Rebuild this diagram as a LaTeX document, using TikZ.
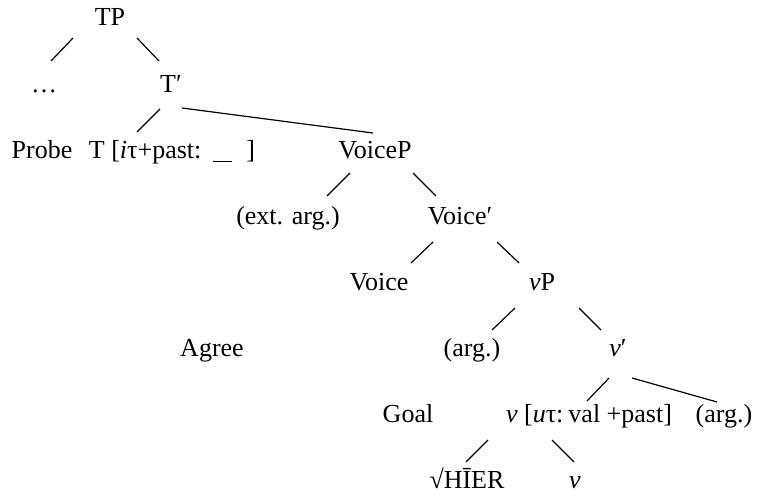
\documentclass[tikz,border=0pt]{standalone}
\usepackage{fontspec}
\setmainfont{Liberation Serif}
\begin{document}
\begin{tikzpicture}[x=1pt,y=-1pt,
  lbl/.style={anchor=base,inner sep=0pt,font=\fontsize{26}{30}\selectfont},
  br/.style={line width=1.2pt}]
\useasboundingbox (0,0) rectangle (762,495);
% row 0
\node[lbl] (TP) at (110,26) {TP};
% row 1
\node[lbl] (dots) at (44,92) {…};
\node[lbl] (Tbar) at (171,92) {T′};
% row 2
\node[lbl] (probe) at (42,158) {Probe};
\node[lbl] (T) at (172,158) {T [\textit{i}τ+past:\hspace{12pt}\rule[-4pt]{19pt}{1.2pt}\hspace{14pt}]};
\node[lbl] (VoiceP) at (375,158) {VoiceP};
% row 3
\node[lbl] (ext) at (288,224) {(ext. arg.)};
\node[lbl] (Voicebar) at (460,224) {Voice′};
% row 4
\node[lbl] (Voice) at (379,290) {Voice};
\node[lbl] (vP) at (542,290) {\textit{v}P};
% row 5
\node[lbl] (agree) at (212,356) {Agree};
\node[lbl] (arg1) at (472,356) {(arg.)};
\node[lbl] (vbar) at (618,356) {\textit{v}′};
% row 6
\node[lbl] (goal) at (408,422) {Goal};
\node[lbl] (vfeat) at (589,422) {\textit{v} [\textit{u}τ:\hspace{5pt}val +past]};
\node[lbl] (arg2) at (724,422) {(arg.)};
% row 7
\node[lbl] (root) at (467,488) {√HĪER};
\node[lbl] (vlow) at (575,488) {\textit{v}};
% branches
\draw[br] ([shift={(-37,12)}]TP.base) -- ([shift={(7,-31)}]dots.base);
\draw[br] ([shift={(27,12)}]TP.base) -- ([shift={(-12,-31)}]Tbar.base);
\draw[br] ([shift={(-11,17)}]Tbar.base) -- ([shift={(-35,-26)}]T.base);
\draw[br] ([shift={(11,16)}]Tbar.base) -- ([shift={(-2,-25)}]VoiceP.base);
\draw[br] ([shift={(-25,15)}]VoiceP.base) -- ([shift={(39,-28)}]ext.base);
\draw[br] ([shift={(38,15)}]VoiceP.base) -- ([shift={(-24,-28)}]Voicebar.base);
\draw[br] ([shift={(-27,18)}]Voicebar.base) -- ([shift={(32,-27)}]Voice.base);
\draw[br] ([shift={(37,18)}]Voicebar.base) -- ([shift={(-23,-27)}]vP.base);
\draw[br] ([shift={(-27,18)}]vP.base) -- ([shift={(20,-26)}]arg1.base);
\draw[br] ([shift={(37,18)}]vP.base) -- ([shift={(-17,-26)}]vbar.base);
\draw[br] ([shift={(-9,22)}]vbar.base) -- ([shift={(-2,-21)}]vfeat.base);
\draw[br] ([shift={(14,22)}]vbar.base) -- ([shift={(-7,-20)}]arg2.base);
\draw[br] ([shift={(-101,18)}]vfeat.base) -- ([shift={(-1,-26)}]root.base);
\draw[br] ([shift={(-37,18)}]vfeat.base) -- ([shift={(-1,-26)}]vlow.base);
\end{tikzpicture}
\end{document}
